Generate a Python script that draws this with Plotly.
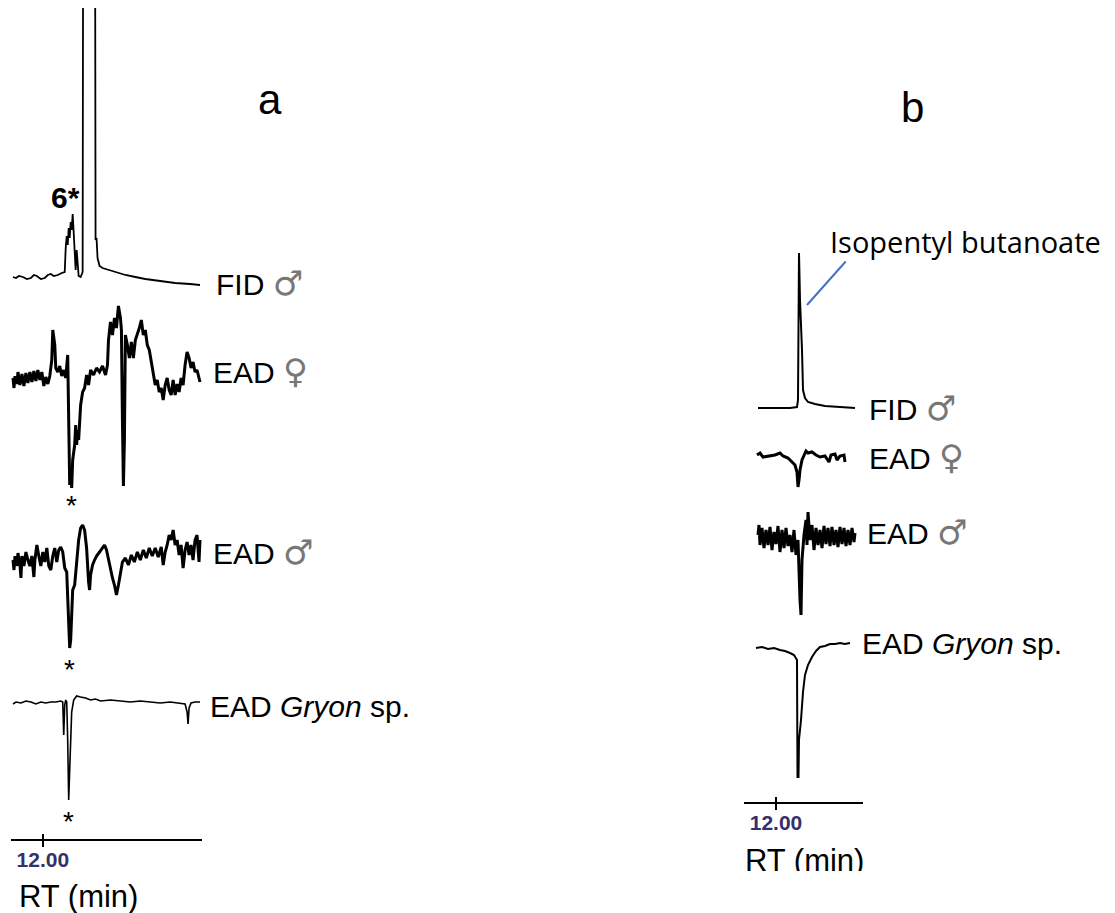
import plotly.graph_objects as go

W, H = 1115, 913

# ---------------- Panel a : retention time (min) / detector response (a.u.) ----------------
rt_a_fid = [11.625, 11.6625, 11.7, 11.75, 11.8, 11.85, 11.8875, 11.925, 11.975, 12.025,
            12.0625, 12.1, 12.1375, 12.1875, 12.2375, 12.275, 12.2875, 12.3, 12.3125, 12.325,
            12.3375, 12.35, 12.3625, 12.375, 12.3875, 12.4, 12.4125, 12.425, 12.4375, 12.45,
            12.475, 12.5, 12.5125, 12.55, 12.6, 12.65, 12.6625, 12.675, 12.6875, 12.7125,
            12.75, 12.825, 12.9125, 13.0375, 13.1625, 13.2875, 13.475, 13.6625, 13.85, 13.975]
fid_male_a = [1, 0, 2, 1, -1, 0, 3, 2, -1, 0,
              3, 4, 2, 3, 5, 6, 30, 42, 33, 50,
              40, 56, 48, 64, 46, 16, 8, 28, 12, 2,
              1, 6, 700, 700, 700, 700, 38, 40, 20, 12,
              10, 8, 6, 3, 1, -1, -3, -5, -6, -7]

rt_a_ead_f = [11.625, 11.6375, 11.65, 11.675, 11.6875, 11.7125, 11.7375, 11.7625, 11.7875, 11.8125,
              11.8375, 11.8625, 11.8875, 11.9125, 11.9375, 11.9625, 11.9875, 12.0125, 12.0375, 12.0625,
              12.0875, 12.1125, 12.125, 12.1375, 12.15, 12.1625, 12.1875, 12.2125, 12.2375, 12.2625,
              12.2875, 12.3125, 12.325, 12.3375, 12.35, 12.3625, 12.375, 12.4, 12.4125, 12.425,
              12.4375, 12.45, 12.475, 12.5, 12.525, 12.55, 12.575, 12.6, 12.6375, 12.675,
              12.7125, 12.75, 12.7875, 12.8125, 12.825, 12.85, 12.875, 12.9, 12.925, 12.95,
              12.975, 12.9875, 13.0, 13.0125, 13.025, 13.0375, 13.0625, 13.0875, 13.1125, 13.1375,
              13.1625, 13.1875, 13.2125, 13.2375, 13.2625, 13.2875, 13.3125, 13.3375, 13.3625, 13.3875,
              13.4125, 13.4375, 13.4625, 13.4875, 13.5125, 13.5375, 13.5625, 13.5875, 13.6125, 13.6375,
              13.6625, 13.6875, 13.7125, 13.7375, 13.7625, 13.7875, 13.8125, 13.8375, 13.8625, 13.8875,
              13.9125, 13.9375, 13.975]
ead_female_a = [2, -8, 4, -4, 8, -5, 6, -6, 7, -3,
                8, -2, 9, -1, 10, 0, 8, -6, 3, -4,
                4, 20, 50, 38, 35, 12, 8, 14, 4, 10,
                2, 25, -60, -105, -90, -108, -80, -65, -45, -65,
                -50, -60, -25, -12, -8, 5, -5, 10, 5, 12,
                8, 14, 5, 15, 40, 58, 45, 62, 52, 74,
                62, 50, -40, -106, -60, 45, 35, 22, 38, 22,
                40, 45, 52, 60, 45, 50, 35, 30, 18, 5,
                -5, 0, -12, -8, -20, -5, 2, -10, -15, 0,
                -15, -4, -12, 2, -5, 15, 28, 22, 12, 18,
                8, 10, -2]

rt_a_ead_m = [11.625, 11.6375, 11.65, 11.675, 11.6875, 11.7125, 11.725, 11.7375, 11.7625, 11.7875,
              11.8125, 11.8375, 11.8625, 11.8875, 11.9, 11.925, 11.95, 11.975, 12.0, 12.025,
              12.05, 12.075, 12.1, 12.125, 12.15, 12.175, 12.2, 12.225, 12.25, 12.275,
              12.3, 12.325, 12.3375, 12.35, 12.3625, 12.375, 12.4, 12.425, 12.45, 12.475,
              12.5, 12.525, 12.55, 12.575, 12.5875, 12.6, 12.625, 12.65, 12.675, 12.7125,
              12.75, 12.775, 12.8, 12.825, 12.85, 12.875, 12.9, 12.925, 12.95, 12.975,
              13.0, 13.0375, 13.075, 13.1125, 13.15, 13.1875, 13.225, 13.2625, 13.3, 13.3375,
              13.375, 13.4125, 13.45, 13.4875, 13.5125, 13.5375, 13.5625, 13.5875, 13.6125, 13.6375,
              13.6625, 13.6875, 13.7125, 13.7375, 13.7625, 13.7875, 13.8125, 13.8375, 13.8625, 13.8875,
              13.9125, 13.9375, 13.9625, 13.975]
ead_male_a = [0, -10, 4, -6, 7, -5, -18, 4, -6, 8,
              0, -6, 4, -17, 0, 15, 4, -6, 8, -2,
              12, -6, -10, 4, 12, -2, 10, 13, 8, -8,
              -12, -60, -88, -80, -50, -30, -25, -5, 20, 32,
              35, 30, 12, -22, -30, -15, -5, 0, 4, 8,
              12, 15, 10, 0, -8, -18, -25, -35, -25, -12,
              -2, 2, -5, 5, -2, 8, 0, 10, 2, 12,
              4, 12, 3, 13, -5, 8, 15, 25, 20, 30,
              15, 20, 5, 15, -8, 10, 18, 5, 15, 0,
              20, 25, -2, 20]

rt_a_gryon = [11.625, 11.6625, 11.725, 11.7875, 11.85, 11.9125, 11.975, 12.0375, 12.1, 12.1625,
              12.225, 12.25, 12.2625, 12.275, 12.2875, 12.3, 12.3125, 12.325, 12.3375, 12.35,
              12.3625, 12.3875, 12.425, 12.475, 12.5375, 12.6, 12.6625, 12.725, 12.85, 12.975,
              13.1, 13.225, 13.35, 13.475, 13.6, 13.725, 13.7875, 13.8125, 13.825, 13.8375,
              13.8625, 13.9125, 13.975]
ead_gryon_a = [-1, 1, 0, 2, 1, -1, 1, 0, 1, 1,
               2, 1, -32, -2, 3, 1, -37, -97, -67, -37,
               -9, 3, 7, 6, 5, 3, 4, 2, 3, 2,
               1, 2, 1, 0, 1, 0, -1, -9, -21, -5,
               0, 1, 1]

# ---------------- Panel b ----------------
rt_b_fid = [11.775, 11.925, 12.05, 12.175, 12.2625, 12.275, 12.2875, 12.3, 12.325, 12.3375,
            12.3625, 12.4, 12.4875, 12.6125, 12.8, 12.9875]
fid_male_b = [0, 0, 0, 0, 1, 8, 155, 108, 58, 18,
              10, 6, 4, 2, 1, 0]

rt_b_ead_f = [11.7625, 11.8, 11.8375, 11.925, 11.9875, 12.05, 12.0875, 12.15, 12.2, 12.2375,
              12.2625, 12.275, 12.2875, 12.3, 12.325, 12.35, 12.375, 12.4, 12.45, 12.5,
              12.55, 12.6125, 12.6625, 12.6875, 12.7375, 12.7625, 12.8, 12.85, 12.8625]
ead_female_b = [2, 4, 0, 1, 2, 4, 1, -1, -5, -8,
                -15, -30, -23, -13, -3, 2, 6, 4, 5, 2,
                0, 1, -5, 2, 3, -3, 1, 2, -5]

rt_b_ead_m = [11.775, 11.7875, 11.8, 11.825, 11.85, 11.875, 11.9, 11.925, 11.95, 11.975,
              12.0, 12.025, 12.05, 12.075, 12.1, 12.125, 12.15, 12.175, 12.2, 12.225,
              12.25, 12.275, 12.3, 12.3125, 12.325, 12.35, 12.375, 12.3875, 12.4, 12.425,
              12.45, 12.475, 12.5, 12.525, 12.55, 12.575, 12.6, 12.625, 12.65, 12.675,
              12.7, 12.725, 12.75, 12.775, 12.8, 12.825, 12.85, 12.875, 12.9, 12.925,
              12.95, 12.975, 12.9875]
ead_male_b = [0, 10, -10, 7, -13, 5, -10, 8, -15, 3,
              -9, 9, -17, 5, -13, 7, -11, 0, -17, 5,
              -20, -5, -65, -80, -25, 0, 15, -10, 23, -5,
              10, -15, 7, -10, 5, -13, 9, -9, 7, -11,
              8, -10, 5, -12, 8, -9, 7, -11, 5, -10,
              7, -7, 2]

rt_b_gryon = [11.75, 11.825, 11.9, 11.975, 12.05, 12.1125, 12.175, 12.225, 12.2625, 12.26875,
              12.28125, 12.2875, 12.3125, 12.3375, 12.3625, 12.4, 12.45, 12.5, 12.55, 12.6125,
              12.675, 12.7375, 12.8, 12.8625, 12.925]
ead_gryon_b = [0, 1, -1, 0, -2, -3, -5, -7, -12, -129,
               -129, -92, -72, -44, -27, -17, -9, -3, 1, 2,
               4, 4, 5, 4, 5]

tick_vals = [12.0]
tick_text = ["<b>12.00</b>"]

FONT = "Liberation Sans, Arial, sans-serif"
SYM = "DejaVu Sans"


def px_x(x):
    return x / W


def px_y(y):
    return 1 - y / H


def ydom(top, bottom):
    return [1 - bottom / H, 1 - top / H]


fig = go.Figure()

# (rt, values, x-axis, y-axis, line width)
series = [
    (rt_a_fid, fid_male_a, "x", "y", 1.8),
    (rt_a_ead_f, ead_female_a, "x", "y2", 3.0),
    (rt_a_ead_m, ead_male_a, "x", "y3", 3.0),
    (rt_a_gryon, ead_gryon_a, "x", "y4", 1.6),
    (rt_b_fid, fid_male_b, "x2", "y5", 2.0),
    (rt_b_ead_f, ead_female_b, "x2", "y6", 3.0),
    (rt_b_ead_m, ead_male_b, "x2", "y7", 3.0),
    (rt_b_gryon, ead_gryon_b, "x2", "y8", 2.0),
]
for rt, vals, xa, ya, lw in series:
    fig.add_trace(go.Scatter(x=rt, y=vals, mode="lines", xaxis=xa, yaxis=ya,
                             line=dict(color="black", width=lw), hoverinfo="skip",
                             showlegend=False))

# empty traces that carry the upward half of the time-axis ticks
fig.add_trace(go.Scatter(x=[], y=[], xaxis="x4", yaxis="y", showlegend=False))
fig.add_trace(go.Scatter(x=[], y=[], xaxis="x5", yaxis="y5", showlegend=False))

# axis caption of panel b, cut at the bottom edge of its box
fig.add_trace(go.Scatter(x=[0], y=[0.26], mode="text", text=["RT (min)"],
                         textposition="middle right", xaxis="x3", yaxis="y9",
                         textfont=dict(family=FONT, size=31, color="black"),
                         cliponaxis=True, showlegend=False, hoverinfo="skip"))

hidden = dict(visible=False, showgrid=False, zeroline=False, fixedrange=True)

time_axis = dict(showline=True, linecolor="black", linewidth=1.5, showgrid=False,
                 zeroline=False, tickmode="array", tickvals=tick_vals, ticktext=tick_text,
                 ticks="outside", ticklen=6, tickwidth=1.5, tickcolor="black",
                 ticklabelstandoff=-5,
                 tickfont=dict(family=FONT, size=21, color="#35306b"), fixedrange=True)

fig.update_layout(
    width=W, height=H,
    margin=dict(l=0, r=0, t=0, b=0),
    paper_bgcolor="white", plot_bgcolor="rgba(0,0,0,0)",
    showlegend=False,
    xaxis=dict(domain=[px_x(11), px_x(202)], range=[11.6, 14.0], anchor="free",
               position=px_y(840), **time_axis),
    xaxis2=dict(domain=[px_x(744), px_x(863)], range=[11.6, 13.0875], anchor="free",
                position=px_y(803), **time_axis),
    xaxis3=dict(domain=[px_x(745), px_x(1000)], range=[0, 1], anchor="y9", **hidden),
    xaxis4=dict(overlaying="x", range=[11.6, 14.0], anchor="free", position=px_y(840),
                showline=False, showgrid=False, zeroline=False, tickmode="array",
                tickvals=tick_vals, ticks="inside", ticklen=6, tickwidth=1.5,
                tickcolor="black", showticklabels=False, fixedrange=True),
    xaxis5=dict(overlaying="x2", range=[11.6, 13.0875], anchor="free", position=px_y(803),
                showline=False, showgrid=False, zeroline=False, tickmode="array",
                tickvals=tick_vals, ticks="inside", ticklen=6, tickwidth=1.5,
                tickcolor="black", showticklabels=False, fixedrange=True),
    yaxis=dict(domain=ydom(8, 300), range=[-22, 270], anchor="x", **hidden),
    yaxis2=dict(domain=ydom(295, 500), range=[-120, 85], anchor="x", **hidden),
    yaxis3=dict(domain=ydom(505, 660), range=[-100, 55], anchor="x", **hidden),
    yaxis4=dict(domain=ydom(670, 810), range=[-107, 33], anchor="x", **hidden),
    yaxis5=dict(domain=ydom(240, 420), range=[-12, 168], anchor="x2", **hidden),
    yaxis6=dict(domain=ydom(440, 495), range=[-38, 17], anchor="x2", **hidden),
    yaxis7=dict(domain=ydom(500, 625), range=[-90, 35], anchor="x2", **hidden),
    yaxis8=dict(domain=ydom(630, 785), range=[-137, 18], anchor="x2", **hidden),
    yaxis9=dict(domain=ydom(840, 871), range=[0, 1], anchor="x3", **hidden),
)


def label(text, x, y, size=30, bold=False, anchor="left", family=FONT, color="black"):
    fig.add_annotation(text=f"<b>{text}</b>" if bold else text,
                       xref="paper", yref="paper", x=px_x(x), y=px_y(y),
                       xanchor=anchor, yanchor="middle", showarrow=False,
                       font=dict(family=family, size=size, color=color))


def sym(ch):
    return f'<span style="font-family:{SYM};font-size:34px;color:#777">{ch}</span>'


MALE, FEMALE = sym("♂"), sym("♀")

# panel letters
label("a", 256, 99, size=42)
label("b", 899, 108, size=42)

# peak number on the male FID trace
label("6*", 49, 197, size=30, bold=True)

# trace labels, panel a
label(f"FID {MALE}", 214, 283)
label(f"EAD {FEMALE}", 211, 371)
label(f"EAD {MALE}", 211, 552)
label("EAD <i>Gryon</i> sp.", 208, 706)
label("RT (min)", 17, 896, size=31)

# trace labels, panel b
label(f"FID {MALE}", 867, 408)
label(f"EAD {FEMALE}", 867, 457)
label(f"EAD {MALE}", 865, 532)
label("EAD <i>Gryon</i> sp.", 860, 643)
label("Isopentyl butanoate", 828, 242, size=29, family="Open Sans, Lato, sans-serif")

# callout line to the isopentyl butanoate peak
fig.add_annotation(text="", xref="paper", yref="paper", x=px_x(807), y=px_y(305),
                   ax=40, ay=-45, showarrow=True, arrowhead=0, arrowwidth=2,
                   arrowcolor="#4472c4", standoff=0, startstandoff=0)

# asterisks under the antennal responses (panel a), placed at each response minimum
for rt, vals, ya, shift in [(rt_a_ead_f, ead_female_a, "y2", 0),
                            (rt_a_ead_m, ead_male_a, "y3", -4),
                            (rt_a_gryon, ead_gryon_a, "y4", -4)]:
    i = vals.index(min(vals))
    fig.add_annotation(text="*", xref="x", yref=ya, x=rt[i], y=vals[i],
                       xanchor="center", yanchor="top", yshift=shift, showarrow=False,
                       font=dict(family=FONT, size=28, color="black"))

fig.write_html("out.html")
